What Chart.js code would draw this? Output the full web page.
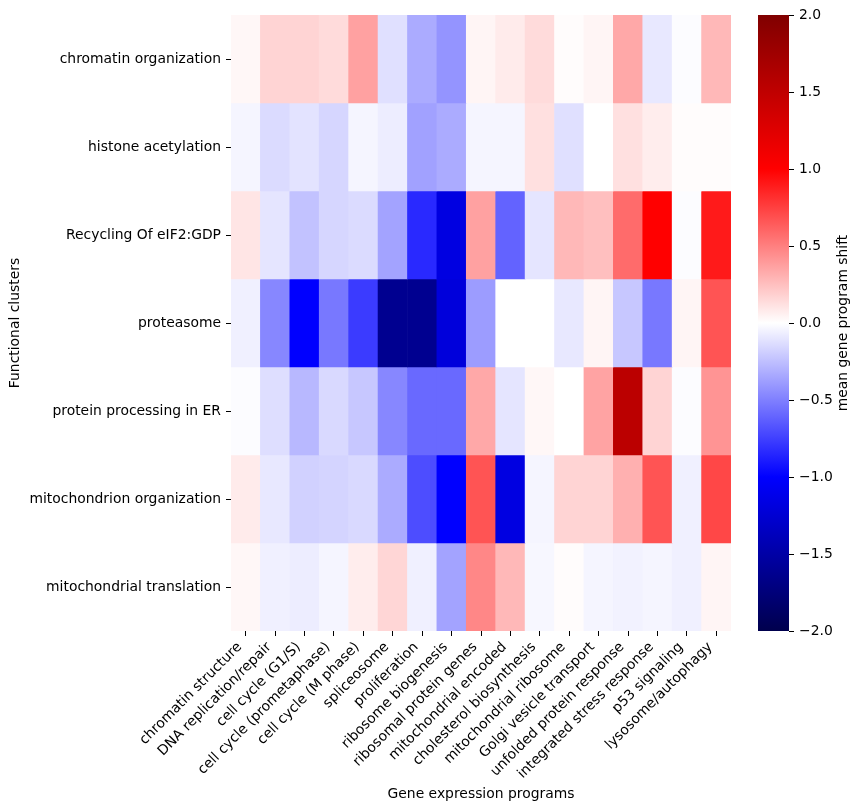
<!DOCTYPE html>
<html>
<head>
<meta charset="utf-8">
<script src="https://cdn.jsdelivr.net/npm/chart.js@4.4.1/dist/chart.umd.min.js"></script>
<style>
  html, body { margin: 0; padding: 0; background: #fff; }
  #wrap { position: relative; width: 861px; height: 811px; }
  canvas { position: absolute; left: 0; top: 0; }
</style>
</head>
<body>
<div id="wrap">
  <canvas id="heat" width="861" height="811"></canvas>
  <canvas id="cbar" width="861" height="811"></canvas>
</div>
<script>
// ---- data ----
const programs = [
  "chromatin structure", "DNA replication/repair", "cell cycle (G1/S)",
  "cell cycle (prometaphase)", "cell cycle (M phase)", "spliceosome",
  "proliferation", "ribosome biogenesis", "ribosomal protein genes",
  "mitochondrial encoded", "cholesterol biosynthesis", "mitochondrial ribosome",
  "Golgi vesicle transport", "unfolded protein response",
  "integrated stress response", "p53 signaling", "lysosome/autophagy"
];
const clusters = [
  "chromatin organization", "histone acetylation", "Recycling Of eIF2:GDP",
  "proteasome", "protein processing in ER", "mitochondrion organization",
  "mitochondrial translation"
];
const chromatinOrganization   = [0.03, 0.17, 0.17, 0.14, 0.37, -0.12, -0.33, -0.42, 0.04, 0.08, 0.14, 0.01, 0.04, 0.34, -0.09, -0.01, 0.28];
const histoneAcetylation      = [-0.04, -0.14, -0.11, -0.16, -0.04, -0.07, -0.37, -0.33, -0.04, -0.04, 0.12, -0.12, 0.00, 0.12, 0.07, 0.01, 0.01];
const recyclingEIF2           = [0.10, -0.10, -0.24, -0.16, -0.14, -0.36, -0.84, -1.17, 0.37, -0.61, -0.10, 0.28, 0.25, 0.58, 1.00, -0.01, 0.90];
const proteasome              = [-0.06, -0.47, -1.00, -0.53, -0.77, -1.62, -1.62, -1.20, -0.39, 0.00, 0.00, -0.09, 0.04, -0.22, -0.53, 0.04, 0.67];
const proteinProcessingER     = [-0.01, -0.13, -0.28, -0.15, -0.22, -0.47, -0.59, -0.59, 0.34, -0.10, 0.03, 0.00, 0.36, 1.53, 0.17, -0.01, 0.42];
const mitochondrionOrg        = [0.08, -0.09, -0.18, -0.17, -0.15, -0.33, -0.70, -1.00, 0.67, -1.17, -0.04, 0.17, 0.17, 0.31, 0.67, -0.06, 0.72];
const mitochondrialTranslation= [0.03, -0.06, -0.07, -0.04, 0.07, 0.16, -0.06, -0.36, 0.47, 0.28, -0.03, 0.01, -0.04, -0.05, -0.04, -0.06, 0.04];
const colorbarTicks = [-2, -1.5, -1, -0.5, 0, 0.5, 1, 1.5, 2];
const vmin = -2, vmax = 2;

const rowsData = [chromatinOrganization, histoneAcetylation, recyclingEIF2, proteasome,
                  proteinProcessingER, mitochondrionOrg, mitochondrialTranslation];

// ---- seismic colormap ----
const seismicStops = [[0, [0, 0, 0.3]], [0.25, [0, 0, 1]], [0.5, [1, 1, 1]], [0.75, [1, 0, 0]], [1, [0.5, 0, 0]]];
function seismic(v) {
  let t = (v - vmin) / (vmax - vmin);
  t = Math.max(0, Math.min(1, t));
  for (let i = 0; i < seismicStops.length - 1; i++) {
    const [t0, c0] = seismicStops[i], [t1, c1] = seismicStops[i + 1];
    if (t <= t1) {
      const f = (t - t0) / (t1 - t0);
      const c = c0.map((x, k) => Math.round(255 * (x + (c1[k] - x) * f)));
      return `rgb(${c[0]},${c[1]},${c[2]})`;
    }
  }
  return 'rgb(128,0,0)';
}

const FONT = { family: "'DejaVu Sans', sans-serif", size: 13.9 };
Chart.defaults.color = '#000';
Chart.defaults.font.family = FONT.family;
Chart.defaults.font.size = FONT.size;

const L = 231, R = 731, T = 15, B = 631;

// ---- heatmap ----
new Chart(document.getElementById('heat'), {
  type: 'bar',
  data: {
    labels: programs,
    datasets: rowsData.map((vals, r) => ({
      label: clusters[r],
      data: vals.map(() => [r, r + 1]),
      backgroundColor: vals.map(seismic),
      borderWidth: 0,
      barPercentage: 1,
      categoryPercentage: 1,
      grouped: false
    }))
  },
  options: {
    responsive: false,
    animation: false,
    devicePixelRatio: 1,
    layout: { padding: { left: 0, top: T, right: 861 - R, bottom: 0 } },
    plugins: { legend: { display: false }, tooltip: { enabled: false } },
    scales: {
      x: {
        type: 'category',
        offset: true,
        grid: { display: true, drawOnChartArea: false, offset: false, tickLength: 5, tickColor: '#000', tickWidth: 1 },
        border: { display: false },
        ticks: { maxRotation: 45, minRotation: 45, autoSkip: false, padding: 3, labelOffset: -6, color: '#000', font: FONT },
        title: { display: true, text: 'Gene expression programs', color: '#000', font: FONT, padding: { top: 0, bottom: 8.6 } },
        afterFit: (s) => { s.height = 811 - B; }
      },
      y: {
        type: 'linear',
        min: 0, max: clusters.length,
        reverse: true,
        afterBuildTicks: (s) => { s.ticks = clusters.map((_, i) => ({ value: i + 0.5 })); },
        grid: { display: true, drawOnChartArea: false, tickLength: 5, tickColor: '#000', tickWidth: 1 },
        border: { display: false },
        ticks: {
          autoSkip: false, padding: 5, color: '#000', font: FONT,
          callback: (v) => clusters[Math.floor(v)]
        },
        title: { display: true, text: 'Functional clusters', color: '#000', font: FONT, padding: { top: 6.6, bottom: 0 } },
        afterFit: (s) => { s.width = L; }
      }
    }
  }
});

// ---- colorbar ----
const CL = 758, CR = 789;
const cbLabelPlugin = {
  id: 'cbLabel',
  afterDraw(chart) {
    const ctx = chart.ctx;
    ctx.save();
    ctx.translate(843, (T + B) / 2);
    ctx.rotate(-Math.PI / 2);
    ctx.font = `${FONT.size}px ${FONT.family}`;
    ctx.fillStyle = '#000';
    ctx.textAlign = 'center';
    ctx.textBaseline = 'middle';
    ctx.fillText('mean gene program shift', 0, 0);
    ctx.restore();
  }
};
new Chart(document.getElementById('cbar'), {
  type: 'bar',
  data: {
    labels: ['cb'],
    datasets: [{
      data: [[vmin, vmax]],
      borderWidth: 0,
      barPercentage: 1,
      categoryPercentage: 1,
      backgroundColor: (c) => {
        const ca = c.chart.chartArea;
        if (!ca) return '#fff';
        const g = c.chart.ctx.createLinearGradient(0, ca.bottom, 0, ca.top);
        seismicStops.forEach(([t, col]) => g.addColorStop(t, `rgb(${col.map(x => Math.round(x * 255)).join(',')})`));
        return g;
      }
    }]
  },
  options: {
    responsive: false,
    animation: false,
    devicePixelRatio: 1,
    layout: { padding: { left: CL, top: T, right: 0, bottom: 811 - B } },
    plugins: { legend: { display: false }, tooltip: { enabled: false } },
    scales: {
      x: { display: false },
      y: {
        type: 'linear',
        position: 'right',
        min: vmin, max: vmax,
        afterBuildTicks: (s) => { s.ticks = colorbarTicks.map(v => ({ value: v })); },
        grid: { display: true, drawOnChartArea: false, tickLength: 5, tickColor: '#000', tickWidth: 1 },
        border: { display: false },
        ticks: {
          padding: 5, color: '#000', font: FONT,
          callback: (v) => v.toFixed(1).replace('-', '\u2212')
        },
        afterFit: (s) => { s.width = 861 - CR; }
      }
    }
  },
  plugins: [cbLabelPlugin]
});
</script>
</body>
</html>
